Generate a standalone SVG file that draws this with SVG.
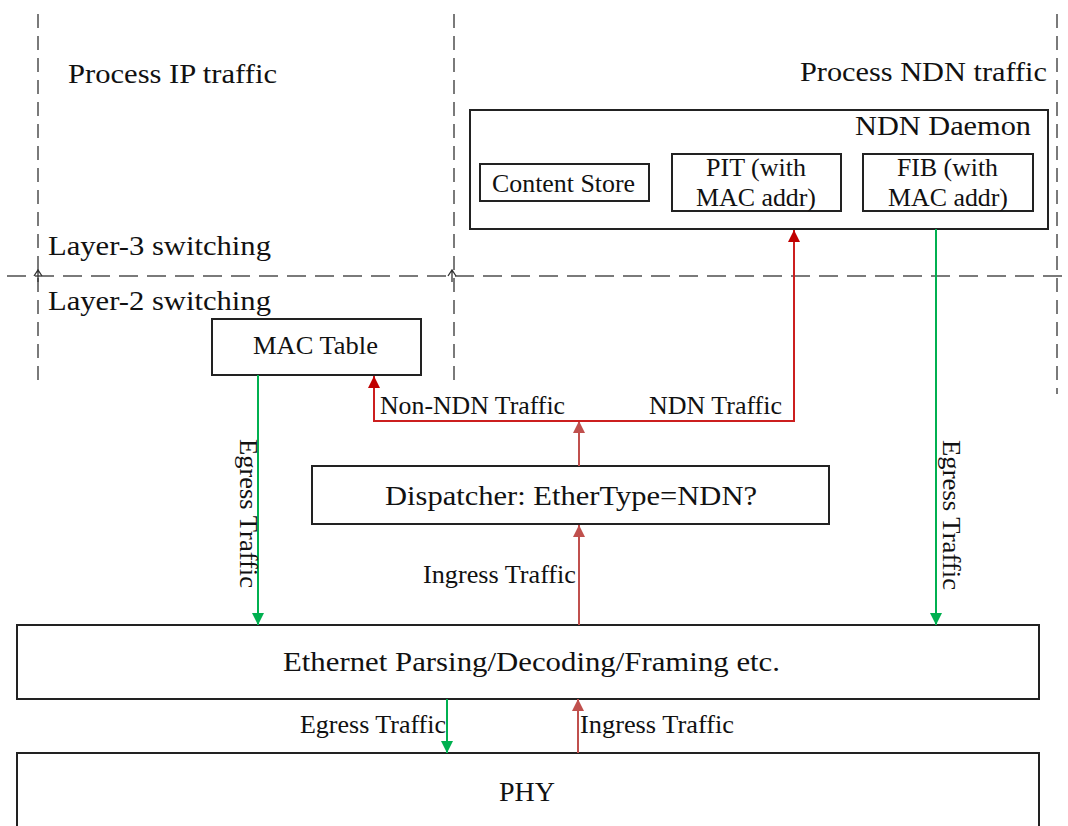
<svg xmlns="http://www.w3.org/2000/svg" width="1068" height="826" viewBox="0 0 1068 826">
  <style>
    .t { font-family: "Liberation Serif", "Times New Roman", serif; fill: #111; }
    .lg { font-size: 28px; }
    .sm { font-size: 25px; }
    .box { fill: #fff; stroke: #222; stroke-width: 2; }
    .zone { fill: none; stroke: #7a7a7a; stroke-width: 2; stroke-dasharray: 14 8; }
    .zoneh { fill: none; stroke: #7a7a7a; stroke-width: 2; stroke-dasharray: 19 9; }
    .eg { fill: none; stroke: #00b050; stroke-width: 2; }
    .in { fill: none; stroke: #c0504d; stroke-width: 2; }
    .sp { fill: none; stroke: #cc1f1f; stroke-width: 2; }
  </style>
  <defs>
    <marker id="ahGreen" markerUnits="userSpaceOnUse" markerWidth="12" markerHeight="12" refX="12" refY="6" orient="auto">
      <path d="M0,0 L12,6 L0,12 z" fill="#00b050"/>
    </marker>
    <marker id="ahIn" markerUnits="userSpaceOnUse" markerWidth="12" markerHeight="12" refX="12" refY="6" orient="auto">
      <path d="M0,0 L12,6 L0,12 z" fill="#c0504d"/>
    </marker>
    <marker id="ahSplit" markerUnits="userSpaceOnUse" markerWidth="12" markerHeight="12" refX="12" refY="6" orient="auto">
      <path d="M0,0 L12,6 L0,12 z" fill="#c00000"/>
    </marker>
  </defs>

  <rect width="1068" height="826" fill="#fff"/>

  <!-- zone boundaries -->
  <g id="zones">
    <line class="zone" x1="38" y1="14" x2="38" y2="384"/>
    <line class="zone" x1="454" y1="14" x2="454" y2="382"/>
    <line class="zone" x1="1057" y1="14" x2="1057" y2="394"/>
    <line class="zoneh" x1="7" y1="276" x2="1068" y2="276"/>
    <path d="M34,276 L38,270 L42,276 M38,270 L38,282 M448,276 L452,270 L456,276 M452,270 L452,282" fill="none" stroke="#333" stroke-width="1.3"/>
    <text class="t lg" x="68" y="83" textLength="209" lengthAdjust="spacingAndGlyphs">Process IP traffic</text>
    <text class="t lg" x="800" y="81" textLength="247" lengthAdjust="spacingAndGlyphs">Process NDN traffic</text>
    <text class="t lg" x="48" y="255" textLength="223" lengthAdjust="spacingAndGlyphs">Layer-3 switching</text>
    <text class="t lg" x="48" y="310" textLength="223" lengthAdjust="spacingAndGlyphs">Layer-2 switching</text>
  </g>

  <!-- NDN daemon with its tables -->
  <g id="ndn-daemon">
    <rect class="box" x="470" y="110" width="578" height="119"/>
    <text class="t lg" x="855" y="135" textLength="176" lengthAdjust="spacingAndGlyphs">NDN Daemon</text>
  </g>
  <g id="content-store">
    <rect class="box" x="480" y="164" width="169" height="37"/>
    <text class="t sm" x="492" y="192" textLength="143" lengthAdjust="spacingAndGlyphs">Content Store</text>
  </g>
  <g id="pit">
    <rect class="box" x="672" y="154" width="169" height="57"/>
    <text class="t sm" x="706" y="176" textLength="100" lengthAdjust="spacingAndGlyphs">PIT (with</text>
    <text class="t sm" x="696" y="206" textLength="120" lengthAdjust="spacingAndGlyphs">MAC addr)</text>
  </g>
  <g id="fib">
    <rect class="box" x="863" y="154" width="170" height="57"/>
    <text class="t sm" x="897" y="176" textLength="101" lengthAdjust="spacingAndGlyphs">FIB (with</text>
    <text class="t sm" x="888" y="206" textLength="120" lengthAdjust="spacingAndGlyphs">MAC addr)</text>
  </g>

  <g id="mac-table">
    <rect class="box" x="212" y="319" width="209" height="56"/>
    <text class="t sm" x="253" y="354" textLength="125" lengthAdjust="spacingAndGlyphs">MAC Table</text>
  </g>

  <g id="dispatcher">
    <rect class="box" x="312" y="466" width="517" height="58"/>
    <text class="t lg" x="385" y="505" textLength="372" lengthAdjust="spacingAndGlyphs">Dispatcher: EtherType=NDN?</text>
  </g>

  <g id="ethernet">
    <rect class="box" x="17" y="625" width="1022" height="74"/>
    <text class="t lg" x="283" y="671" textLength="497" lengthAdjust="spacingAndGlyphs">Ethernet Parsing/Decoding/Framing etc.</text>
  </g>

  <g id="phy">
    <rect class="box" x="17" y="753" width="1022" height="80"/>
    <text class="t lg" x="499" y="801" textLength="56" lengthAdjust="spacingAndGlyphs">PHY</text>
  </g>

  <!-- traffic paths -->
  <g id="connectors">
    <!-- egress from the tables down to Ethernet -->
    <line class="eg" x1="258" y1="375" x2="258" y2="625" marker-end="url(#ahGreen)"/>
    <line class="eg" x1="936" y1="229" x2="936" y2="625" marker-end="url(#ahGreen)"/>
    <line class="eg" x1="447" y1="699" x2="447" y2="753" marker-end="url(#ahGreen)"/>

    <!-- ingress up through the dispatcher -->
    <line class="in" x1="578" y1="753" x2="578" y2="699" marker-end="url(#ahIn)"/>
    <line class="in" x1="579" y1="625" x2="579" y2="525" marker-end="url(#ahIn)"/>
    <line class="in" x1="579" y1="466" x2="579" y2="421" marker-end="url(#ahIn)"/>

    <!-- dispatcher split -->
    <path class="sp" d="M579,421 L374,421 L374,376" marker-end="url(#ahSplit)"/>
    <path class="sp" d="M579,421 L794,421 L794,230" marker-end="url(#ahSplit)"/>

    <text class="t sm" x="380" y="414" textLength="185" lengthAdjust="spacingAndGlyphs">Non-NDN Traffic</text>
    <text class="t sm" x="649" y="414" textLength="133" lengthAdjust="spacingAndGlyphs">NDN Traffic</text>
    <text class="t sm" x="423" y="583" textLength="153" lengthAdjust="spacingAndGlyphs">Ingress Traffic</text>
    <text class="t sm" x="300" y="733" textLength="146" lengthAdjust="spacingAndGlyphs">Egress Traffic</text>
    <text class="t sm" x="580" y="733" textLength="154" lengthAdjust="spacingAndGlyphs">Ingress Traffic</text>
    <text class="t sm" transform="translate(240,439) rotate(90)" textLength="149" lengthAdjust="spacingAndGlyphs">Egress Traffic</text>
    <text class="t sm" transform="translate(943,440) rotate(90)" textLength="150" lengthAdjust="spacingAndGlyphs">Egress Traffic</text>
  </g>
</svg>
